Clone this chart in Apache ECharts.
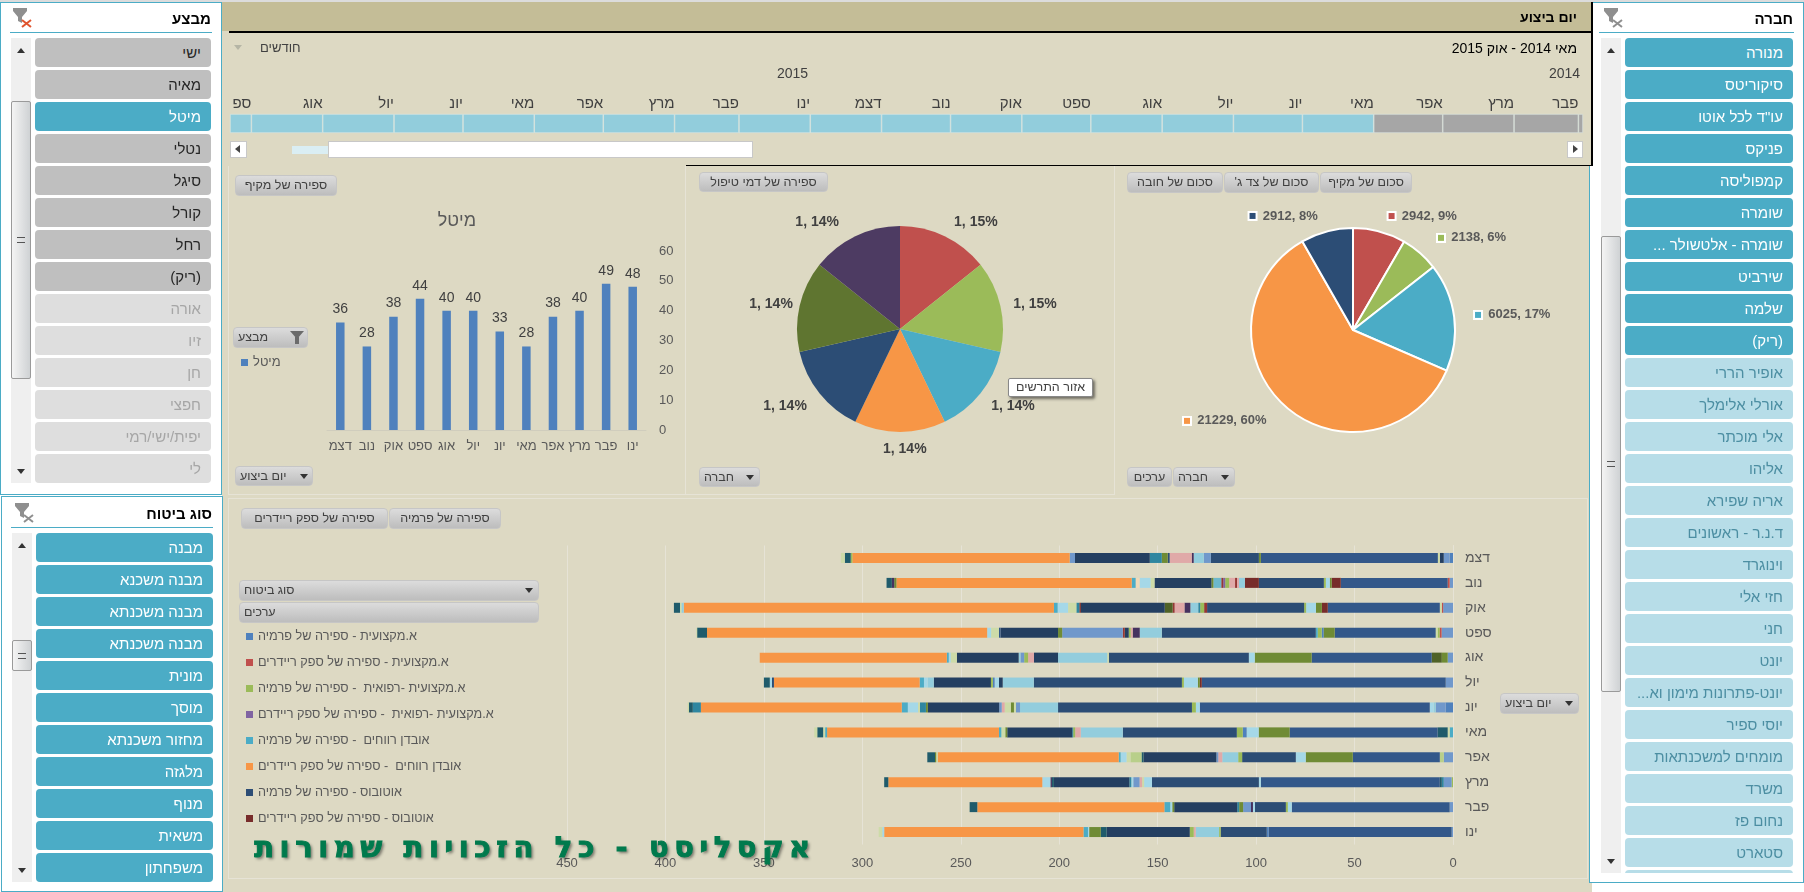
<!DOCTYPE html>
<html lang="he"><head><meta charset="utf-8"><title>דוח</title>
<style>
html,body{margin:0;padding:0;width:1804px;height:892px;overflow:hidden;background:#fff;font-family:"Liberation Sans",Arial,sans-serif}
.a{position:absolute;box-sizing:border-box}
#chart{position:absolute;left:0;top:0;width:1804px;height:892px;z-index:5}
.t{position:absolute;white-space:nowrap;z-index:7}
.slbtn{position:absolute;box-sizing:border-box;border-radius:4px;font-size:15px;line-height:29px;padding-right:10px;direction:rtl;text-align:right;white-space:nowrap;overflow:hidden}
.pill{position:absolute;box-sizing:border-box;z-index:7;border:1px solid #c6c6c6;border-radius:4px;background:linear-gradient(#dcdcdc,#bdbdbd);color:#404040;font-size:12.5px;line-height:19px;direction:rtl;padding:0 4px;white-space:nowrap;overflow:hidden}
.arrow{position:absolute;z-index:8;width:0;height:0;border-left:4px solid transparent;border-right:4px solid transparent;border-top:5px solid #333}
.up{border-top:none;border-bottom:5px solid #333}
</style></head><body>
<div class="a" style="left:0;top:0;width:1804px;height:2px;background:#dcdcdc"></div>
<div class="a" style="left:222px;top:2px;width:1370px;height:890px;background:#DDD9C3"></div>
<div class="a" style="left:222px;top:2px;width:1371px;height:164px;background:#DDD9C3;border-right:2px solid #000;z-index:3"></div>
<div class="a" style="left:222px;top:2px;width:1369px;height:29px;background:#C4BD97;z-index:3"></div>
<div class="a" style="left:229px;top:31px;width:1362px;height:1.5px;background:#000;z-index:3"></div>
<div class="a" style="left:686px;top:164.5px;width:906px;height:1.5px;background:#000;z-index:3"></div>
<div class="a" style="left:228px;top:166px;width:458px;height:329px;border:1px solid #E6E3D6;border-top:none"></div>
<div class="a" style="left:686px;top:166px;width:429px;height:329px;border:1px solid #E6E3D6;border-top:none;border-left:none"></div>
<div class="a" style="left:228px;top:498px;width:1360px;height:381px;border:1px solid #E6E3D6"></div>
<div id="ui"></div>
<div id="chart"></div>
<script src="https://cdn.jsdelivr.net/npm/echarts@6/dist/echarts.min.js"></script>
<script>
// ---- slicer lists
const agents = ['ישי','מאיה','מיטל','נטלי','סיגל','קורל','רחל','(ריק)','אורה','זיו','חן','חפצי','יפית/ישי/רמי','לי'];
const agentActive = 8, agentSelected = 2;
const insuranceTypes = ['מבנה','מבנה משכנא','מבנה משכנתא','מבנה משכנתא','מונית','מוסך','מחזור משכנתא','מלגזה','מנוף','משאית','משפחתון'];
const companies = ['מנורה','סיקוריטס','עו"ד לכל אוטו','פניקס','קמפוליסה','שומרה','שומרה - אלטשולר ...','שירביט','שלמה','(ריק)','אופיר הררי','אורלי אלימלך','אלי מוכתר','אליהו','אריה שפירא','ד.נ.ר - ראשונים','וינוגרד','חזי אלי','חני','יונט','יונט-פתרונות מימון וא...','יוסי ספיר','מומחים למשכנתאות','משרד','נחום פז','סטארט',''];
const companyActive = 10;

// ---- timeline (days per month, right to left)
const timelineMonths = ['','פבר','מרץ','אפר','מאי','יונ','יול','אוג','ספט','אוק','נוב','דצמ','ינו','פבר','מרץ','אפר','מאי','יונ','יול','אוג','ספ'];
const timelineDays   = [2,28,31,30,31,30,31,31,30,31,30,31,31,28,31,30,31,30,31,31,9.3];
const timelineGrey = 4;

// ---- column chart
const columnMonths = ['ינו','פבר','מרץ','אפר','מאי','יונ','יול','אוג','ספט','אוק','נוב','דצמ'];
const columnValues = [48,49,40,38,28,33,40,40,44,38,28,36];
const columnSeriesName = 'מיטל';

// ---- pies
const pie1Values = [1,1,1,1,1,1,1];
const pie1Percent = [15,15,14,14,14,14,14];
const pie2Values = [2942,2138,6025,21229,2912];
const pie2Percent = [9,6,17,60,8];

// ---- stacked bars
const stackMonths = ['דצמ','נוב','אוק','ספט','אוג','יול','יונ','מאי','אפר','מרץ','פבר','ינו'];
const segDec = [['b',1.7],['lb',3],['n3',2],['lg',1],['n',89.9],['g2',1],['n2',24.4],['lb',3.6],['s',5.1],['v',1],['p',11.2],['n2',1],['g2',3],['mt',6.1],['n3',38],['lb',2.7],['o',110.4],['g',.8],['dt',3],['lg',2]];
const segNov = [['lb',1.7],['rl',1],['n',54.3],['r',4.6],['g2',1],['s2',2],['g',1],['n2',33],['r',7.1],['s',3],['p',1],['r2',1],['p',3],['g',2],['pr',1],['r2',1],['t2',4],['g2',1],['n3',28.9],['lg',2],['s2',5.6],['lo',2],['t',2],['o',119.5],['g2',1.1],['v',1.2],['dt',2.7]];
const segOct = [['lb',5],['rl',.7],['lg',1],['n',56.9],['r',3],['g2',3],['s2',5],['g',1],['n2',49.3],['r2',1.5],['g',2],['mt',1],['s',4],['v',3],['p',5],['r2',1],['g3',4],['n3',42.6],['r',.8],['mt',1.5],['lg',4.2],['s2',5.3],['t',1.9],['o',188],['s',1.2],['lg',.7],['dt',3.1]];
const segSep = [['lb',5.8],['rl',1],['g',1],['lg',1],['n',51.3],['g2',5.6],['b',1],['g',2],['t',1],['n2',78.2],['s',11.2],['v',3.6],['p',1],['g',1],['n3',2],['r2',1],['lb',30.8],['g2',2.1],['n3',29.2],['n',.8],['lg',4],['s2',2],['o',142.3],['dt',5],['lg',.4]];
const segAug = [['lb',2.7],['g2',3],['g3',5.1],['n',61],['g2',28.9],['s2',3],['n2',71.1],['lg',.8],['s',25],['n3',12.2],['p',3],['g',2],['lb',1.9],['s',.9],['n3',31.4],['lg',3.1],['s2',1],['t',1],['o',95]];
const segJul = [['lb',3.7],['n',123.9],['r',1],['g2',1],['s2',7.1],['g',1],['n2',75.2],['s',15.8],['n3',1.9],['s2',2.2],['b',.9],['g',1],['n3',29],['s',3.1],['s2',1.9],['t',2.2],['o',74],['n2',1],['s2',1.1],['dt',3]];
const segJun = [['b',3.7],['lb',5.1],['s',1],['s2',2],['n',116.8],['s2',2],['g',2],['n2',68],['s',19.3],['lb',2.1],['lg',1],['g2',1.6],['lg',3.1],['p',1.5],['lb',1.3],['n3',36.2],['g2',1],['mt',3],['lg',1],['s2',5.2],['t',3.1],['o',102],['mt',4.1],['dt',2],['lg',.6]];
const segMay = [['t',1.7],['lg',1],['dt',5.1],['n',75.2],['g2',15.7],['s2',6.1],['b',2],['g',3],['n2',57.9],['s',21.4],['p',2.8],['g',1],['mt',.5],['n3',33],['g2',1],['lg',2],['t',1.2],['o',87.3],['t',1],['lg',1],['dt',3],['lg',1.5]];
const segApr = [['lb',4.7],['lg2',2],['n',44.2],['g2',23.9],['s2',5],['n2',.4],['n2',26.9],['g',2],['s',8.1],['p',2],['lb',1],['n3',37],['dt',1],['lg2',5.6],['lg',2],['s2',3],['t',1],['o',91.9],['lg',.8],['g2',.6],['dt',3.9]];
const segMar = [['g',.7],['lb',4],['mt',1],['dt',1],['n',90.9],['s2',1],['n2',54.3],['s2',4],['lg',1],['p',1.3],['lb',3.2],['s2',1],['mt',1],['n3',38.3],['dt',1],['v',.8],['s2',4.1],['o',78.2],['dt',2.1]];
const segFeb = [['lb',1.7],['n',80.2],['s2',2],['g',1],['n2',15.7],['s2',1],['v',1],['lb',4],['g2',2],['mt',1],['n3',32],['g2',1],['s2',1],['t',3],['o',95],['dt',3.9]];
const segJan = [['lb',.7],['n',92.9],['b',1],['n2',23.4],['g',.8],['s',11.9],['p',1],['g',2],['n3',42.2],['dt',3],['g2',5.9],['s2',.6],['t',2.3],['o',101.2],['s2',1],['lg',1.8]];
const stackRows = [segDec,segNov,segOct,segSep,segAug,segJul,segJun,segMay,segApr,segMar,segFeb,segJan];
const legendNames = ['א.מקצועית - ספירה של פרמיה','א.מקצועית - ספירה של ספק ריידרים','א.מקצועית -רפואית  - ספירה של פרמיה','א.מקצועית -רפואית  - ספירה של ספק ריידרם','אובדן רווחים  - ספירה של פרמיה','אובדן רווחים  - ספירה של ספק ריידרים','אוטובוס - ספירה של פרמיה','אוטובוס - ספירה של ספק ריידרים'];

// ---- styling
const pieColors = ['#C0504D','#9BBB59','#4BACC6','#F79646','#2C4D75','#5F7530','#4D3B62'];
const pie2Colors = ['#C0504D','#9BBB59','#4BACC6','#F79646','#2C4D75'];
const legendColors = ['#4F81BD','#C0504D','#9BBB59','#8064A2','#4BACC6','#F79646','#2C4D75','#772C2A'];
const kindColor = {b:'#4F81BD',lb:'#7098CB',n:'#33588A',n2:'#2C4D75',n3:'#243F61',o:'#F79646',t:'#4BACC6',t2:'#6DB8CC',s:'#93CDDD',s2:'#A5D8E8',g:'#9BBB59',g2:'#6F8B35',g3:'#4F6228',lg:'#CDDBA8',lg2:'#B8CF8A',lo:'#EFD9B8',p:'#E0A9A8',r:'#772C2A',r2:'#953735',rl:'#C0504D',v:'#45325F',dt:'#1F5B6B',mt:'#2F86A0',pr:'#8064A2'};
const TXT='#595959', FONT='Liberation Sans';

// ---- HTML chrome
const ui=document.getElementById('ui');
function div(cls,css,text){const d=document.createElement('div');d.className=cls;d.style.cssText=css;if(text!==undefined)d.textContent=text;ui.appendChild(d);return d;}
function funnel(x,y,xc){const d=div('a',`left:${x}px;top:${y}px;width:20px;height:20px;z-index:8`);
 d.innerHTML=`<svg width="20" height="20" viewBox="0 0 20 20"><path d="M0 0H14V3L9 9V15L5 13V9L0 3Z" fill="#8f8f8f"/><path d="M9 12L18 19M18 12L9 19" stroke="${xc}" stroke-width="2"/></svg>`;}
function slicer(o){
 div('a',`left:${o.x}px;top:${o.y}px;width:${o.w}px;height:${o.h}px;background:#fff;border:1px solid #4BACC6;z-index:2`);
 div('t',`right:${1804-o.titleR}px;top:${o.y0-29}px;font-weight:bold;font-size:15px;line-height:20px;color:#000;direction:rtl;z-index:8`,o.title);
 div('a',`left:${o.lineL}px;width:${o.titleR-o.lineL+1}px;top:${o.y0-6}px;height:1px;background:#4BACC6;z-index:8`);
 funnel(o.fx,o.y0-30,o.fc);
 const wrap=div('a',`left:${o.bx}px;top:${o.y0}px;width:${o.bw}px;height:${o.clip}px;overflow:hidden;z-index:8`);
 o.items.forEach((s,i)=>{const b=document.createElement('div');b.className='slbtn';
  const st=o.style(i);b.style.cssText=`left:0;top:${i*32}px;width:${o.bw}px;height:29px;background:${st[0]};color:${st[1]}`;b.textContent=s;wrap.appendChild(b);});
 div('a',`left:${o.sx}px;top:${o.y0}px;width:20px;height:${o.clip}px;background:#EFEFEF;z-index:8`);
 div('a',`left:${o.sx}px;top:${o.ty}px;width:20px;height:${o.th}px;background:linear-gradient(90deg,#f4f4f4,#cfd2d4);border:1px solid #9a9a9a;border-radius:2px;z-index:8`);
 div('arrow up',`left:${o.sx+6}px;top:${o.y0+10}px`);
 div('arrow',`left:${o.sx+6}px;top:${o.y0+o.clip-14}px`);
 div('a',`left:${o.sx+6}px;top:${o.ty+o.th/2-3}px;width:8px;height:6px;border-top:1px solid #555;border-bottom:1px solid #555;z-index:9`);
}
slicer({x:0,y:2,w:222,h:493,title:'מבצע',titleR:211,lineL:10,fx:13,fc:'#E0542E',y0:38,bx:35,bw:176,clip:445,sx:11,ty:101,th:278,items:agents,
 style:i=>i===agentSelected?['#4BACC6','#fff']:(i<agentActive?['#BFBFBF','#262626']:['#DEDEDE','#A6A6A6'])});
slicer({x:1,y:496,w:222,h:396,title:'סוג ביטוח',titleR:212,lineL:11,fx:15,fc:'#8f8f8f',y0:533,bx:36,bw:177,clip:349,sx:12,ty:640,th:31,items:insuranceTypes,
 style:i=>['#4BACC6','#fff']});
slicer({x:1589,y:2,w:215,h:881,title:'חברה',titleR:1793,lineL:1599,fx:1604,fc:'#8f8f8f',y0:38,bx:1625,bw:168,clip:835,sx:1601,ty:236,th:456,items:companies,
 style:i=>i<companyActive?['#4BACC6','#fff']:['#B7DDE8','#4C8EA2']});
// timeline text
div('t','right:227px;top:8px;font-weight:bold;font-size:14px;line-height:18px;color:#000;direction:rtl','יום ביצוע');
div('t','right:227px;top:39px;font-size:14px;line-height:18px;color:#000;direction:rtl','מאי 2014 - אוק 2015');
div('t','left:260px;top:40px;font-size:13px;line-height:16px;color:#404040;direction:rtl','חודשים');
div('arrow','left:234px;top:45px;border-top-color:#b5b5a5');
div('t','left:1549px;top:65px;font-size:14px;line-height:16px;color:#404040','2014');
div('t','left:777px;top:65px;font-size:14px;line-height:16px;color:#404040','2015');
// timeline scroller
div('a','left:292px;top:146px;width:36px;height:8px;background:#DAEEF3;z-index:7');
div('a','left:328px;top:141px;width:425px;height:17px;background:#fff;border:1px solid #c8c8c8;z-index:7');
div('a','left:230px;top:141px;width:17px;height:17px;background:#fff;border:1px solid #c8c8c8;z-index:7');
div('a','left:1567px;top:141px;width:16px;height:17px;background:#fff;border:1px solid #c8c8c8;z-index:7');
div('a','left:235px;top:145px;width:0;height:0;border-top:4px solid transparent;border-bottom:4px solid transparent;border-right:5px solid #444;z-index:8');
div('a','left:1573px;top:145px;width:0;height:0;border-top:4px solid transparent;border-bottom:4px solid transparent;border-left:5px solid #444;z-index:8');
// field buttons
function pill(x,y,w,h,text,arrow,align){const p=div('pill',`left:${x}px;top:${y}px;width:${w}px;height:${h}px;line-height:${h-2}px;text-align:${align||'center'}`,text);
 if(arrow)div('arrow',`left:${x+arrow}px;top:${y+8}px`);}
pill(235,175,102,21,'ספירה של מקיף');
pill(233,327,75,21,'מבצע',0,'left');
pill(235,466,78,20,'יום ביצוע',0,'left');div('arrow',`left:300px;top:474px`);
pill(699,172,129,20,'ספירה של דמי טיפול');
pill(699,467,61,20,'חברה',0,'left');div('arrow',`left:746px;top:475px`);
pill(1127,172,96,21,'סכום של חובה');
pill(1224,172,95,21,"סכום של צד ג'");
pill(1320,172,92,21,'סכום של מקיף');
pill(1127,467,45,20,'ערכים');
pill(1173,467,62,20,'חברה',0,'left');div('arrow',`left:1221px;top:475px`);
pill(241,508,147,21,'ספירה של ספק ריידרים');
pill(389,508,112,21,'ספירה של פרמיה');
pill(239,580,300,21,'סוג ביטוח',0,'left');div('arrow',`left:525px;top:588px`);
pill(239,602,300,21,'ערכים',0,'left');
pill(1500,693,79,21,'יום ביצוע',0,'left');div('arrow',`left:1565px;top:701px`);
div('a','left:290px;top:331px;width:0;height:0;border-left:7px solid transparent;border-right:7px solid transparent;border-top:8px solid #6b6b6b;z-index:9');
div('a','left:295px;top:337px;width:4px;height:7px;background:#6b6b6b;z-index:9');
// tooltip
div('t','left:1008px;top:378px;width:85px;height:19px;line-height:17px;box-sizing:border-box;background:#fff;border:1px solid #888;border-radius:2px;box-shadow:2px 2px 3px rgba(0,0,0,.5);font-size:12.5px;color:#404040;text-align:center;direction:rtl;z-index:9','אזור התרשים');
// watermark
div('t','left:252px;top:828px;width:566px;text-align:center;font:bold 29px "DejaVu Sans";line-height:38px;letter-spacing:5.6px;color:#007A4D;-webkit-text-stroke:1px #007A4D;direction:rtl;text-shadow:2px 2px 3px rgba(0,0,0,.45);z-index:9','אקסליסט - כל הזכויות שמורות');

// ---- chart
const total=timelineDays.reduce((a,b)=>a+b,0);
const timelineSeries=timelineDays.map((d,i)=>({type:'bar',stack:'tl',xAxisIndex:0,yAxisIndex:0,barWidth:'100%',silent:true,data:[d],
 itemStyle:{color:i<timelineGrey?'#A6A6A6':'#92CDDC',borderColor:'#DDE9E6',borderWidth:.6},
 label:{show:true,position:'insideRight',distance:0,offset:[0,-20],formatter:()=>timelineMonths[i],color:'#404040',fontSize:15,fontFamily:FONT}}));
const maxSeg=Math.max(...stackRows.map(r=>r.length));
const stackSeries=[];
for(let i=0;i<maxSeg;i++){stackSeries.push({type:'bar',stack:'st',xAxisIndex:2,yAxisIndex:2,barWidth:10,silent:true,
 data:stackRows.map(r=>r[i]?{value:r[i][1],itemStyle:{color:kindColor[r[i][0]]}}:0)});}
const legendSeries=legendNames.map((n,i)=>({type:'bar',stack:'st',xAxisIndex:2,yAxisIndex:2,barWidth:10,name:n,data:[],itemStyle:{color:legendColors[i]}}));
const pie1Shift=[[-3,1],[-2,0],[-10,0],[-22,0],[8,0],[8,0],[-4,1]];
const opt={
 animation:false,textStyle:{fontFamily:FONT},
 title:[{text:columnSeriesName,left:452,top:207,textAlign:'center',textStyle:{fontSize:18,fontWeight:'normal',color:TXT,fontFamily:FONT}}],
 legend:[
  {data:[columnSeriesName],left:236,top:351,itemWidth:7,itemHeight:7,icon:'rect',itemGap:0,selectedMode:false,textStyle:{color:TXT,fontSize:13,fontFamily:FONT}},
  {data:legendNames,orient:'vertical',left:241,top:625,itemWidth:7,itemHeight:7,icon:'rect',itemGap:13,selectedMode:false,textStyle:{color:TXT,fontSize:12.7,fontFamily:FONT}}
 ],
 grid:[{left:230,top:114,width:1353,height:19},{left:327,top:251,width:319,height:179},{left:567,top:545.5,width:886,height:299}],
 xAxis:[
  {gridIndex:0,type:'value',inverse:true,min:0,max:total,show:false},
  {gridIndex:1,type:'category',inverse:true,data:columnMonths,axisTick:{show:false},axisLine:{lineStyle:{color:'#D0CDBD'}},axisLabel:{color:TXT,fontSize:13,margin:10,interval:0,fontFamily:FONT}},
  {gridIndex:2,type:'value',inverse:true,min:0,max:450,interval:50,axisLine:{show:false},axisTick:{show:false},splitLine:{lineStyle:{color:'#E6E3D6'}},axisLabel:{color:TXT,fontSize:13,margin:12,fontFamily:FONT}}
 ],
 yAxis:[
  {gridIndex:0,type:'category',data:['x'],show:false},
  {gridIndex:1,type:'value',position:'right',min:0,max:60,interval:10,splitLine:{show:false},axisLine:{show:false},axisTick:{show:false},axisLabel:{color:TXT,fontSize:13,margin:13,fontFamily:FONT}},
  {gridIndex:2,type:'category',position:'right',inverse:true,data:stackMonths,axisTick:{show:false},axisLine:{lineStyle:{color:'#E6E3D6'}},axisLabel:{color:TXT,fontSize:14,margin:12,interval:0,fontFamily:FONT}}
 ],
 series:[
  ...timelineSeries,
  {type:'bar',name:columnSeriesName,xAxisIndex:1,yAxisIndex:1,data:columnValues,barWidth:8.5,itemStyle:{color:'#4F81BD'},label:{show:true,position:'top',distance:6,color:'#404040',fontSize:14,fontFamily:FONT}},
  {type:'pie',center:[900,329],radius:103,startAngle:90,clockwise:true,avoidLabelOverlap:false,silent:true,
   data:pie1Values.map((v,i)=>({value:v,name:'p'+i,itemStyle:{color:pieColors[i]},labelLine:{length:[17,10,20,17,20,10,17][i],length2:0,show:false}})),
   label:{position:'outside',formatter:p=>p.value+', '+pie1Percent[p.dataIndex]+'%',fontWeight:'bold',fontSize:14,color:'#404040',fontFamily:FONT},
   labelLayout:p=>({dx:pie1Shift[p.dataIndex][0],dy:pie1Shift[p.dataIndex][1]})},
  {type:'pie',center:[1353,330],radius:102,startAngle:90,clockwise:true,avoidLabelOverlap:false,silent:true,
   data:pie2Values.map((v,i)=>({value:v,name:'q'+i,itemStyle:{color:pie2Colors[i],borderColor:'#fff',borderWidth:2},labelLine:{length:[16,20,16,20,16][i],length2:0,show:false}})),
   label:{position:'outside',fontWeight:'bold',fontSize:13,color:'#595959',fontFamily:FONT,
    formatter:p=>'{k'+p.dataIndex+'|}  '+p.value+', '+pie2Percent[p.dataIndex]+'%',
    rich:Object.fromEntries(pie2Colors.map((c,i)=>['k'+i,{width:6,height:6,backgroundColor:c,borderColor:'#fff',borderWidth:2}]))}},
  ...stackSeries,...legendSeries
 ]
};
echarts.init(document.getElementById('chart'),null,{renderer:'canvas'}).setOption(opt);
</script></body></html>
